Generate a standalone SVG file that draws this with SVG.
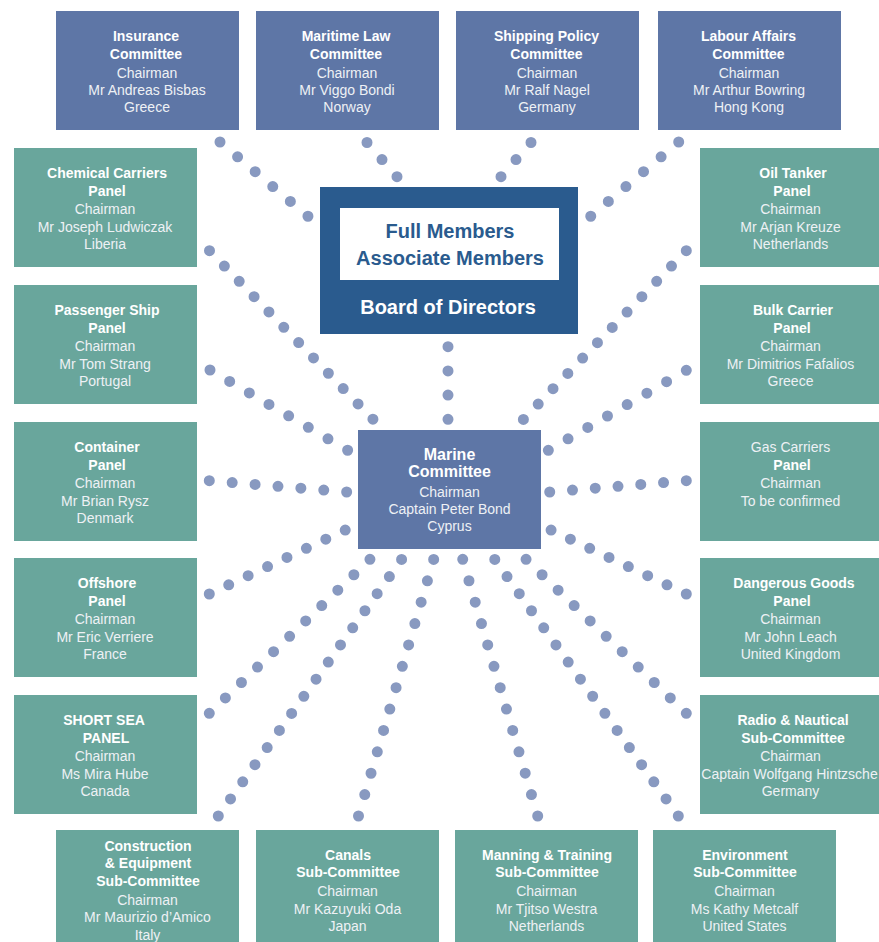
<svg xmlns="http://www.w3.org/2000/svg" width="879" height="942" viewBox="0 0 879 942">
<style>
.blue{fill:#5E76A6}
.green{fill:#69A69C}
.board{fill:#2A5B8E}
.t{font-family:"Liberation Sans",Arial,sans-serif;font-size:14px;text-anchor:middle}
.b{font-weight:bold;fill:#ffffff}
.r{fill:#EEF1F5}
.dots{stroke:#8899C0;stroke-width:11;stroke-linecap:round;fill:none}
</style>
<rect width="879" height="942" fill="#ffffff"/>
<g id="connectors" class="dots">
<line x1="220" y1="142" x2="308" y2="216.3" stroke-dasharray="0 23.02"/>
<line x1="367" y1="142.5" x2="397" y2="176.7" stroke-dasharray="0 22.74"/>
<line x1="531" y1="142.5" x2="501" y2="176.7" stroke-dasharray="0 22.74"/>
<line x1="678.7" y1="142" x2="590.7" y2="216.3" stroke-dasharray="0 23.02"/>
<line x1="448" y1="346.7" x2="448" y2="419.3" stroke-dasharray="0 24.19"/>
<line x1="209.5" y1="250.7" x2="373" y2="419.3" stroke-dasharray="0 21.34"/>
<line x1="210" y1="370" x2="347.7" y2="450.3" stroke-dasharray="0 22.76"/>
<line x1="209.3" y1="480.7" x2="346.7" y2="492" stroke-dasharray="0 22.97"/>
<line x1="209.3" y1="594" x2="345.3" y2="530" stroke-dasharray="0 21.46"/>
<line x1="209.3" y1="713.3" x2="370" y2="559.3" stroke-dasharray="0 22.25"/>
<line x1="218.3" y1="816" x2="401.7" y2="559.3" stroke-dasharray="0 21.02"/>
<line x1="358.5" y1="816" x2="433.7" y2="559.3" stroke-dasharray="0 22.28"/>
<line x1="537.7" y1="816" x2="462.7" y2="559.3" stroke-dasharray="0 22.28"/>
<line x1="678.3" y1="816" x2="494.7" y2="559.3" stroke-dasharray="0 21.03"/>
<line x1="686.3" y1="713.3" x2="526" y2="559.3" stroke-dasharray="0 22.22"/>
<line x1="686.3" y1="594" x2="551" y2="530" stroke-dasharray="0 21.37"/>
<line x1="686.3" y1="480.7" x2="549.7" y2="492" stroke-dasharray="0 22.84"/>
<line x1="686.3" y1="370.3" x2="548.3" y2="450.3" stroke-dasharray="0 22.78"/>
<line x1="686.3" y1="250.7" x2="523.3" y2="419.5" stroke-dasharray="0 21.32"/>
</g>

<g id="board">
<rect class="board" x="320" y="187" width="258" height="147"/>
<rect x="340" y="208" width="219" height="72" fill="#ffffff"/>
<text class="t" x="450" y="238" font-weight="bold" fill="#2A5B8E" style="font-size:20px">Full Members</text>
<text class="t" x="450" y="264.5" font-weight="bold" fill="#2A5B8E" style="font-size:20px">Associate Members</text>
<text class="t" x="448" y="313.5" font-weight="bold" fill="#ffffff" style="font-size:20px">Board of Directors</text>
</g>

<g id="marine">
<rect class="blue" x="358" y="430" width="183" height="119"/>
<text class="t b" x="449.5" y="459.5" style="font-size:16px">Marine</text>
<text class="t b" x="449.5" y="477" style="font-size:16px">Committee</text>
<text class="t r" x="449.5" y="496.5">Chairman</text>
<text class="t r" x="449.5" y="513.5">Captain Peter Bond</text>
<text class="t r" x="449.5" y="530.5">Cyprus</text>
</g>

<g id="insurance">
<rect class="blue" x="56" y="11" width="183" height="119"/>
<text class="t b" x="146" y="41">Insurance</text>
<text class="t b" x="146" y="58.5">Committee</text>
<text class="t r" x="147" y="77.5">Chairman</text>
<text class="t r" x="147" y="95">Mr Andreas Bisbas</text>
<text class="t r" x="147" y="112">Greece</text>
</g>
<g id="maritime-law">
<rect class="blue" x="256" y="11" width="183" height="119"/>
<text class="t b" x="346" y="41">Maritime Law</text>
<text class="t b" x="346" y="58.5">Committee</text>
<text class="t r" x="347" y="77.5">Chairman</text>
<text class="t r" x="347" y="95">Mr Viggo Bondi</text>
<text class="t r" x="347" y="112">Norway</text>
</g>
<g id="shipping-policy">
<rect class="blue" x="456" y="11" width="183" height="119"/>
<text class="t b" x="546.5" y="41">Shipping Policy</text>
<text class="t b" x="546.5" y="58.5">Committee</text>
<text class="t r" x="547" y="77.5">Chairman</text>
<text class="t r" x="547" y="95">Mr Ralf Nagel</text>
<text class="t r" x="547" y="112">Germany</text>
</g>
<g id="labour-affairs">
<rect class="blue" x="658" y="11" width="183" height="119"/>
<text class="t b" x="748.5" y="41">Labour Affairs</text>
<text class="t b" x="748.5" y="58.5">Committee</text>
<text class="t r" x="749" y="77.5">Chairman</text>
<text class="t r" x="749" y="95">Mr Arthur Bowring</text>
<text class="t r" x="749" y="112">Hong Kong</text>
</g>

<g id="chemical-carriers">
<rect class="green" x="14" y="148" width="183" height="119"/>
<text class="t b" x="107" y="178">Chemical Carriers</text>
<text class="t b" x="107" y="195.5">Panel</text>
<text class="t r" x="105" y="214">Chairman</text>
<text class="t r" x="105" y="231.5">Mr Joseph Ludwiczak</text>
<text class="t r" x="105" y="249">Liberia</text>
</g>
<g id="passenger-ship">
<rect class="green" x="14" y="285" width="183" height="119"/>
<text class="t b" x="107" y="315">Passenger Ship</text>
<text class="t b" x="107" y="332.5">Panel</text>
<text class="t r" x="105" y="351">Chairman</text>
<text class="t r" x="105" y="368.5">Mr Tom Strang</text>
<text class="t r" x="105" y="386">Portugal</text>
</g>
<g id="container">
<rect class="green" x="14" y="422" width="183" height="119"/>
<text class="t b" x="107" y="452">Container</text>
<text class="t b" x="107" y="469.5">Panel</text>
<text class="t r" x="105" y="488">Chairman</text>
<text class="t r" x="105" y="505.5">Mr Brian Rysz</text>
<text class="t r" x="105" y="523">Denmark</text>
</g>
<g id="offshore">
<rect class="green" x="14" y="558" width="183" height="119"/>
<text class="t b" x="107" y="588">Offshore</text>
<text class="t b" x="107" y="605.5">Panel</text>
<text class="t r" x="105" y="624">Chairman</text>
<text class="t r" x="105" y="641.5">Mr Eric Verriere</text>
<text class="t r" x="105" y="659">France</text>
</g>
<g id="short-sea">
<rect class="green" x="14" y="695" width="183" height="119"/>
<text class="t b" x="104" y="725">SHORT SEA</text>
<text class="t b" x="106" y="742.5">PANEL</text>
<text class="t r" x="105" y="761">Chairman</text>
<text class="t r" x="105" y="778.5">Ms Mira Hube</text>
<text class="t r" x="105" y="796">Canada</text>
</g>

<g id="oil-tanker">
<rect class="green" x="700" y="148" width="183" height="119"/>
<text class="t b" x="793" y="178">Oil Tanker</text>
<text class="t b" x="792" y="195.5">Panel</text>
<text class="t r" x="790.5" y="214">Chairman</text>
<text class="t r" x="790.5" y="231.5">Mr Arjan Kreuze</text>
<text class="t r" x="790.5" y="249">Netherlands</text>
</g>
<g id="bulk-carrier">
<rect class="green" x="700" y="285" width="183" height="119"/>
<text class="t b" x="793" y="315">Bulk Carrier</text>
<text class="t b" x="792" y="332.5">Panel</text>
<text class="t r" x="790.5" y="351">Chairman</text>
<text class="t r" x="790.5" y="368.5">Mr Dimitrios Fafalios</text>
<text class="t r" x="790.5" y="386">Greece</text>
</g>
<g id="gas-carriers">
<rect class="green" x="700" y="422" width="183" height="119"/>
<text class="t r" x="790.5" y="452">Gas Carriers</text>
<text class="t b" x="792" y="469.5">Panel</text>
<text class="t r" x="790.5" y="488">Chairman</text>
<text class="t r" x="790.5" y="505.5">To be confirmed</text>
</g>
<g id="dangerous-goods">
<rect class="green" x="700" y="558" width="183" height="119"/>
<text class="t b" x="794" y="588">Dangerous Goods</text>
<text class="t b" x="792" y="605.5">Panel</text>
<text class="t r" x="790.5" y="624">Chairman</text>
<text class="t r" x="790.5" y="641.5">Mr John Leach</text>
<text class="t r" x="790.5" y="659">United Kingdom</text>
</g>
<g id="radio-nautical">
<rect class="green" x="700" y="695" width="183" height="119"/>
<text class="t b" x="793" y="725">Radio &amp; Nautical</text>
<text class="t b" x="793" y="742.5">Sub-Committee</text>
<text class="t r" x="790.5" y="761">Chairman</text>
<text class="t r" x="789.5" y="778.5">Captain Wolfgang Hintzsche</text>
<text class="t r" x="790.5" y="796">Germany</text>
</g>

<g id="construction-equipment">
<rect class="green" x="56" y="830" width="183" height="120"/>
<text class="t b" x="148" y="850.5">Construction</text>
<text class="t b" x="148" y="868">&amp; Equipment</text>
<text class="t b" x="148" y="885.5">Sub-Committee</text>
<text class="t r" x="147.5" y="904.5">Chairman</text>
<text class="t r" x="147.5" y="922">Mr Maurizio d’Amico</text>
<text class="t r" x="147.5" y="939.5">Italy</text>
</g>
<g id="canals">
<rect class="green" x="256" y="830" width="183" height="120"/>
<text class="t b" x="348" y="859.5">Canals</text>
<text class="t b" x="348" y="877">Sub-Committee</text>
<text class="t r" x="347.5" y="896">Chairman</text>
<text class="t r" x="347.5" y="913.5">Mr Kazuyuki Oda</text>
<text class="t r" x="347.5" y="930.5">Japan</text>
</g>
<g id="manning-training">
<rect class="green" x="455" y="830" width="183" height="120"/>
<text class="t b" x="547" y="859.5">Manning &amp; Training</text>
<text class="t b" x="547" y="877">Sub-Committee</text>
<text class="t r" x="546.5" y="896">Chairman</text>
<text class="t r" x="546.5" y="913.5">Mr Tjitso Westra</text>
<text class="t r" x="546.5" y="930.5">Netherlands</text>
</g>
<g id="environment">
<rect class="green" x="653" y="830" width="183" height="120"/>
<text class="t b" x="745" y="859.5">Environment</text>
<text class="t b" x="745" y="877">Sub-Committee</text>
<text class="t r" x="744.5" y="896">Chairman</text>
<text class="t r" x="744.5" y="913.5">Ms Kathy Metcalf</text>
<text class="t r" x="744.5" y="930.5">United States</text>
</g>
</svg>
